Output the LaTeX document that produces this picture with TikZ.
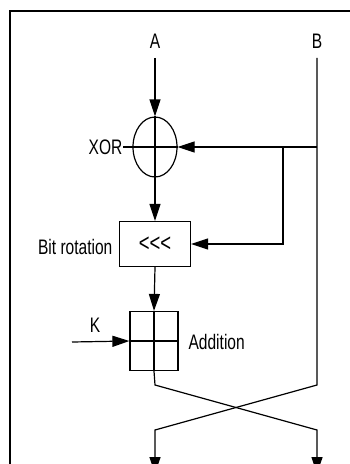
\documentclass[tikz,border=0pt]{standalone}
\usepackage{fontspec}
\setmainfont{Liberation Sans}[FakeStretch=0.74]
\usetikzlibrary{arrows.meta, shapes.geometric}

\begin{document}
\begin{tikzpicture}[x=1pt, y=-1pt, line width=1.2pt,
        font=\fontsize{21}{24}\selectfont,
        >={Triangle[length=17pt,width=11pt]},
        op/.style={draw, inner sep=0pt},
        lbl/.style={inner sep=0pt}]
            \useasboundingbox (0,0) rectangle (350,464);
            \clip (0,0) rectangle (350,464);

            % Frame
            \draw[line width=2.4pt] (10,11) rectangle (380,500);

            % Nodes
            \node[lbl] (A) at (155,41) {A};
            \node[lbl] (B) at (317,41) {B};
            \node[op, ellipse, minimum width=44pt, minimum height=60pt] (xor) at (155,147) {};
            \node[lbl, anchor=east] (xorlbl) at (123,147) {XOR};
            \node[op, minimum width=71pt, minimum height=45pt, font=\fontsize{25}{25}\selectfont] (rot) at (155,244) {<\kern0pt<\kern0pt<};
            \node[lbl, anchor=east] (rotlbl) at (113,247) {Bit rotation};
            \node[op, minimum width=48pt, minimum height=59pt] (add) at (154,341) {};
            \node[lbl] (K) at (95,325) {K};
            \node[lbl, anchor=west] (addlbl) at (188,342) {Addition};

            % Points
            \coordinate (kin) at (72,342);
            \coordinate (bsplit) at (317,147);
            \coordinate (bbranch) at (283,147);
            \coordinate (abend) at (155,385);
            \coordinate (bbend) at (317,385);
            \coordinate (aout) at (155,430);
            \coordinate (bout) at (317,430);
            \coordinate (afoot) at (155,474);
            \coordinate (bfoot) at (317,474);

            % Edges
            \draw[->, shorten <=9pt] (A) -- (xor.north);
            \draw (xor.north) -- (xor.south);
            \draw (xorlbl.east) -- (xor.east);
            \draw[->] (bsplit) -- (xor.east);
            \draw[->] (bbranch) |- (rot.east);
            \draw[->] (xor.south) -- (rot.north);
            \draw[->] (rot.south) -- (add.north);
            \draw (add.north) -- (add.south);
            \draw (add.west) -- (add.east);
            \draw[->] (kin) -- (add.west);
            \draw[->] (add.south) -- (abend) -- (bout) -- (bfoot);
            \draw[->, shorten <=9pt] (B) -- (bbend) -- (aout) -- (afoot);
        \end{tikzpicture}
\end{document}
